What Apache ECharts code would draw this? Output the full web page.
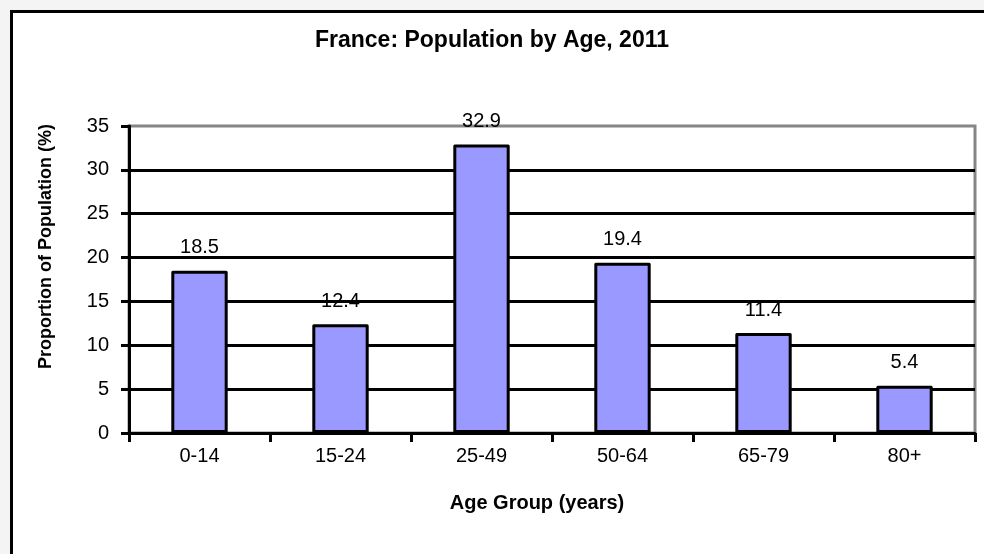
<!DOCTYPE html>
<html>
<head>
<meta charset="utf-8">
<title>France: Population by Age, 2011</title>
<script src="https://cdn.jsdelivr.net/npm/echarts@6/dist/echarts.min.js"></script>
<style>
  html, body { margin: 0; padding: 0; background: #f4f4f4; }
  #chart { width: 984px; height: 554px; }
</style>
</head>
<body>
<div id="chart"></div>
<script>
// Age groups and their share of the total population (%)
const ageGroups = ['0-14', '15-24', '25-49', '50-64', '65-79', '80+'];
const populationShare = [18.5, 12.4, 32.9, 19.4, 11.4, 5.4];
const yAxisMin = 0;
const yAxisMax = 35;
const yAxisStep = 5;

const FONT = '"Liberation Sans", Arial, sans-serif';

const chart = echarts.init(document.getElementById('chart'), null, { renderer: 'canvas' });

chart.setOption({
  backgroundColor: '#f4f4f4',
  animation: false,
  graphic: [{
    type: 'rect',
    z: -100,
    silent: true,
    shape: { x: 11.5, y: 11.5, width: 1000, height: 600 },
    style: { fill: '#ffffff', stroke: '#000000', lineWidth: 3 }
  }],
  title: {
    text: 'France: Population by Age, 2011',
    left: 'center',
    top: 29,
    padding: 0,
    textStyle: { fontFamily: FONT, fontSize: 23, fontWeight: 'bold', color: '#000' }
  },
  grid: {
    left: 129,
    right: 9,
    top: 126,
    bottom: 121,
    show: true,
    backgroundColor: 'transparent',
    borderColor: '#868686',
    borderWidth: 3
  },
  xAxis: {
    type: 'category',
    data: ageGroups,
    name: 'Age Group (years)',
    nameLocation: 'middle',
    nameGap: 60,
    nameTextStyle: {
      fontFamily: FONT, fontSize: 20, fontWeight: 'bold', color: '#000',
      padding: [0, 30, 0, 0]
    },
    axisLine: { show: true, lineStyle: { color: '#000', width: 3 } },
    axisTick: { show: true, length: 9, lineStyle: { color: '#000', width: 3 } },
    axisLabel: { fontFamily: FONT, fontSize: 20, color: '#000', margin: 13 },
    splitLine: { show: false }
  },
  yAxis: {
    type: 'value',
    min: yAxisMin,
    max: yAxisMax,
    interval: yAxisStep,
    name: 'Proportion of Population (%)',
    nameLocation: 'middle',
    nameRotate: 90,
    nameGap: 74,
    nameTextStyle: {
      fontFamily: FONT, fontSize: 18, fontWeight: 'bold', color: '#000',
      padding: [0, 0, 0, 66]
    },
    axisLine: { show: true, lineStyle: { color: '#000', width: 3 } },
    axisTick: { show: true, length: 8, lineStyle: { color: '#000', width: 3 } },
    axisLabel: { fontFamily: FONT, fontSize: 20, color: '#000', margin: 20 },
    splitLine: {
      show: true,
      showMinLine: false,
      showMaxLine: false,
      lineStyle: { color: '#000', width: 3 }
    }
  },
  series: [{
    type: 'bar',
    data: populationShare,
    barWidth: '40%',
    itemStyle: {
      color: '#9999ff',
      borderColor: '#000',
      borderWidth: 3,
      borderJoin: 'round'
    },
    label: {
      show: true,
      position: 'top',
      distance: 13,
      fontFamily: FONT,
      fontSize: 20,
      color: '#000',
      formatter: p => p.value.toFixed(1)
    }
  }]
});
</script>
</body>
</html>
